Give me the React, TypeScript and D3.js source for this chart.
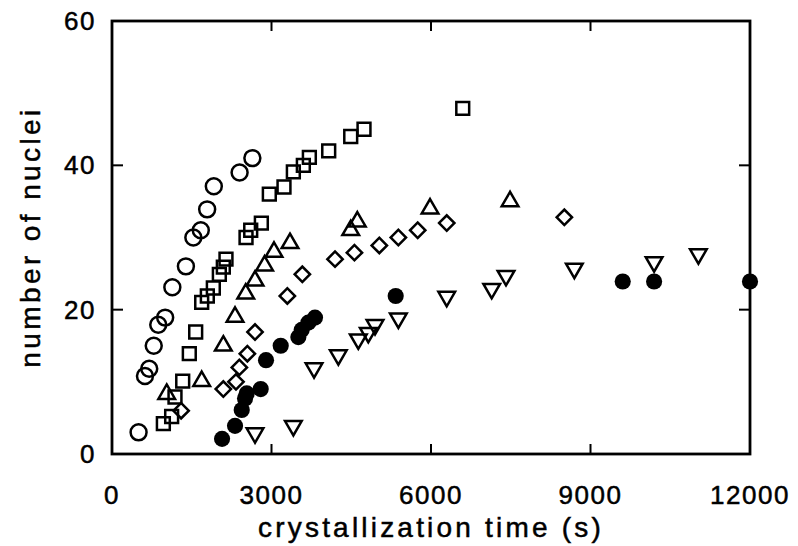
import React from "react";
import * as d3 from "d3";

const xTicks = [0, 3000, 6000, 9000, 12000];
const yTicks = [0, 20, 40, 60];

const openCircles: [number, number][] = [
  [500, 3], [620, 10.8], [700, 11.8], [785, 15], [870, 17.9], [1000, 18.9],
  [1135, 23.1], [1390, 26], [1530, 30], [1670, 31], [1790, 33.9], [1915, 37.1],
  [2400, 39], [2640, 41],
];

const openSquares: [number, number][] = [
  [966, 4.2], [1122, 5.2], [1185, 7.9], [1330, 10.1], [1454, 13.9], [1574, 16.9],
  [1687, 21], [1793, 21.9], [1906, 23], [2019, 24.9], [2094, 25.9], [2144, 27],
  [2521, 30], [2609, 31], [2809, 32], [2959, 36], [3235, 37], [3411, 39.1],
  [3599, 40], [3712, 41.1], [4076, 42], [4490, 44], [4740, 45], [6597, 47.9],
];

const upTriangles: [number, number][] = [
  [1029, 8.3], [1687, 10.1], [2094, 15], [2314, 19], [2515, 22.2], [2690, 24],
  [2870, 26.1], [3047, 28], [3348, 29.2], [4490, 31], [4614, 32.2], [5982, 34],
  [7487, 35],
];

const diamonds: [number, number][] = [
  [1300, 6], [2094, 9], [2332, 10], [2395, 12], [2546, 13.9], [2690, 16.9],
  [3298, 21.9], [3580, 24.9], [4195, 27], [4560, 27.9], [5028, 28.9], [5386, 30],
  [5750, 31], [6296, 32], [8508, 32.8],
];

const filledCircles: [number, number][] = [
  [2070, 2.1], [2314, 3.9], [2440, 6.1], [2502, 7.7], [2534, 8.4], [2797, 9],
  [2897, 13], [3173, 15], [3505, 16.2], [3568, 17.2], [3693, 18.2], [3818, 18.9],
  [5336, 21.9], [9606, 23.9], [10196, 23.9], [12000, 23.9],
];

const downTriangles: [number, number][] = [
  [2690, 2.9], [3411, 3.9], [3800, 11.9], [4257, 13.7], [4633, 15.9], [4821, 16.8],
  [4947, 17.9], [5386, 18.8], [6296, 21.8], [7142, 22.9], [7411, 24.7], [8696, 25.7],
  [10196, 26.6], [11029, 27.7],
];

const X0 = 112, X1 = 750, Y0 = 454, Y1 = 21;

export default function App() {
  const x = d3.scaleLinear().domain([0, 12000]).range([X0, X1]);
  const y = d3.scaleLinear().domain([0, 60]).range([Y0, Y1]);

  const circlePath = d3.symbol().type(d3.symbolCircle).size(200)()!;
  const squarePath = d3.symbol().type(d3.symbolSquare).size(165)()!;
  const triPath = d3.symbol().type(d3.symbolTriangle).size(120)()!;
  const diamondPath = d3.symbol().type(d3.symbolSquare).size(118)()!;
  const filledPath = d3.symbol().type(d3.symbolCircle).size(205)()!;

  const font = "'Liberation Sans', Arial, sans-serif";
  const sw = 2.5;

  const series: { data: [number, number][]; d: string; fill: string; rot: number }[] = [
    { data: openCircles, d: circlePath, fill: "none", rot: 0 },
    { data: openSquares, d: squarePath, fill: "none", rot: 0 },
    { data: upTriangles, d: triPath, fill: "none", rot: 0 },
    { data: diamonds, d: diamondPath, fill: "none", rot: 45 },
    { data: downTriangles, d: triPath, fill: "none", rot: 180 },
    { data: filledCircles, d: filledPath, fill: "#000", rot: 0 },
  ];

  const textProps = { fontFamily: font, fill: "#000", stroke: "#000", strokeWidth: 0.5 };

  return (
    <svg width={798} height={546} style={{ position: "absolute", left: 0, top: 0, background: "#fff" }}>
      <rect x={0} y={0} width={798} height={546} fill="#fff" />
      <rect x={X0} y={Y1} width={X1 - X0} height={Y0 - Y1} fill="none" stroke="#000" strokeWidth={2.8} />
      {xTicks.map((t) => (
        <g key={"xt" + t}>
          <line x1={x(t)} x2={x(t)} y1={Y0} y2={Y0 - 10} stroke="#000" strokeWidth={2} />
          <line x1={x(t)} x2={x(t)} y1={Y1} y2={Y1 + 10} stroke="#000" strokeWidth={2} />
          <text x={x(t)} y={504} textAnchor="middle" fontSize={26} letterSpacing={1.5} {...textProps}>
            {t}
          </text>
        </g>
      ))}
      {yTicks.map((t) => (
        <g key={"yt" + t}>
          <line x1={X0} x2={X0 + 11} y1={y(t)} y2={y(t)} stroke="#000" strokeWidth={2} />
          <line x1={X1} x2={X1 - 11} y1={y(t)} y2={y(t)} stroke="#000" strokeWidth={2} />
          <text x={96} y={y(t) + 9} textAnchor="end" fontSize={26} letterSpacing={1.5} {...textProps}>
            {t}
          </text>
        </g>
      ))}
      {series.map((s, i) => (
        <g key={"s" + i}>
          {s.data.map(([dx, dy], j) => (
            <path
              key={j}
              d={s.d}
              transform={`translate(${x(dx)},${y(dy)}) rotate(${s.rot})`}
              fill={s.fill}
              stroke="#000"
              strokeWidth={s.fill === "none" ? sw : 0}
            />
          ))}
        </g>
      ))}
      <text x={431} y={537} textAnchor="middle" fontSize={28} letterSpacing={3.2} {...textProps}>
        crystallization time (s)
      </text>
      <text transform="translate(40,237) rotate(-90)" textAnchor="middle" fontSize={28} letterSpacing={3.4} {...textProps}>
        number of nuclei
      </text>
    </svg>
  );
}
